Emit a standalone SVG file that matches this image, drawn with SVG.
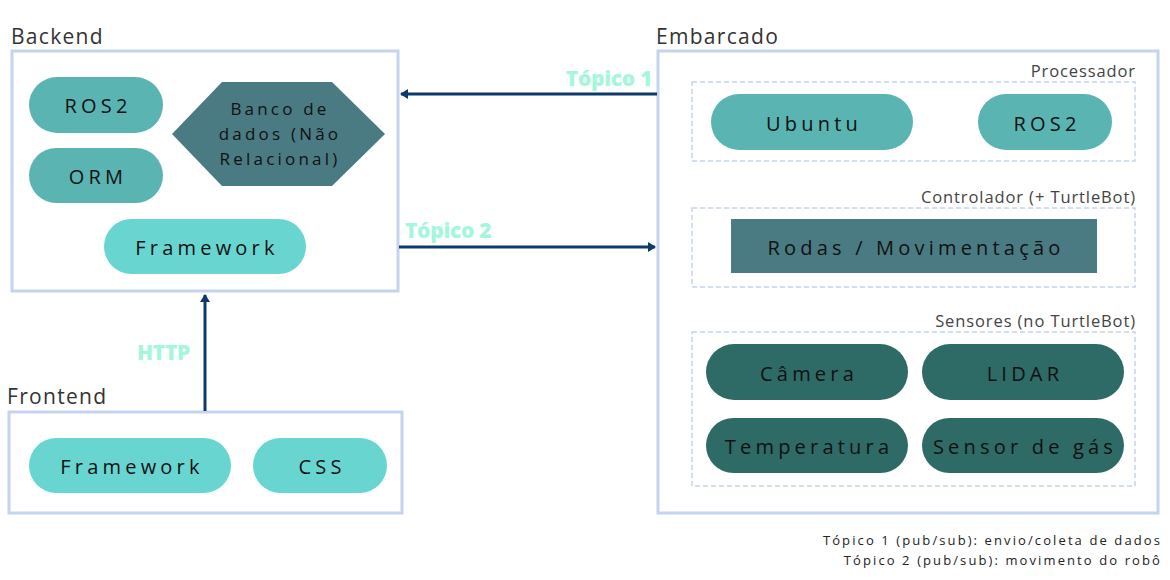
<svg xmlns="http://www.w3.org/2000/svg" width="1170" height="580" viewBox="0 0 1170 580">
<defs>
<marker id="ah" markerWidth="10" markerHeight="10" refX="7" refY="5" orient="auto" markerUnits="userSpaceOnUse">
<path d="M0,0 L8,5 L0,10 Z" fill="#0d3a6b"/>
</marker>
<style>
.frame{fill:#fff;stroke:#c5d4ee;stroke-width:3}
.dash{fill:none;stroke:#c5d4ee;stroke-width:1.5;stroke-dasharray:5 3}
.title{font-family:"Open Sans","Noto Sans",sans-serif;font-size:21px;fill:#333;letter-spacing:1.3px}
.sub{font-family:"Open Sans","Noto Sans",sans-serif;font-size:16.5px;fill:#444;letter-spacing:0.9px}
.nt{font-family:"Open Sans","Noto Sans",sans-serif;font-size:20px;fill:#111;letter-spacing:4.2px;text-anchor:middle;dominant-baseline:central}
.hx{font-size:17px;letter-spacing:3.2px}
.lbl{font-family:"Open Sans","Liberation Sans",sans-serif;font-weight:800;font-size:21px;fill:#a6f6dc;letter-spacing:-0.3px}
.c1{fill:#5ab4b1}.c2{fill:#68d5d1}.c3{fill:#4a7b83}.c4{fill:#2e6a66}
.conn{stroke:#0d3a6b;stroke-width:3;fill:none}
.foot{font-family:"Open Sans","Noto Sans",sans-serif;font-size:13px;fill:#222;letter-spacing:2.1px;text-anchor:end}
</style>
</defs>

<g id="backend">
<text class="title" x="11" y="44">Backend</text>
<rect class="frame" x="12" y="51" width="386" height="240"/>
<g id="be-ros2"><rect class="c1" x="29" y="77" width="134" height="56" rx="28"/><text class="nt" x="98" y="105">ROS2</text></g>
<g id="be-orm"><rect class="c1" x="29" y="148" width="134" height="55" rx="27.5"/><text class="nt" x="98" y="176">ORM</text></g>
<g id="be-db"><polygon class="c3" points="172,134 222,82 332,82 385,134 332,186 222,186"/>
<text class="nt hx" x="280" y="108">Banco de</text>
<text class="nt hx" x="280" y="133">dados (Não</text>
<text class="nt hx" x="280" y="158">Relacional)</text></g>
<g id="be-fw"><rect class="c2" x="104" y="219" width="202" height="55" rx="27.5"/><text class="nt" x="207" y="247">Framework</text></g>
</g>

<g id="frontend">
<text class="title" x="7" y="404">Frontend</text>
<rect class="frame" x="9" y="412" width="393" height="101"/>
<g id="fe-fw"><rect class="c2" x="29" y="438" width="202" height="55" rx="27.5"/><text class="nt" x="132" y="466">Framework</text></g>
<g id="fe-css"><rect class="c2" x="253" y="438" width="134" height="55" rx="27.5"/><text class="nt" x="322" y="466">CSS</text></g>
</g>

<g id="embarcado">
<text class="title" x="656" y="44">Embarcado</text>
<rect class="frame" x="658" y="51" width="500" height="462"/>
<g id="processador">
<text class="sub" x="1136" y="77" text-anchor="end">Processador</text>
<rect class="dash" x="692" y="82" width="443" height="79"/>
<g id="emb-ubuntu"><rect class="c1" x="711" y="94" width="202" height="56" rx="28"/><text class="nt" x="814" y="123">Ubuntu</text></g>
<g id="emb-ros2"><rect class="c1" x="978" y="94" width="134" height="56" rx="28"/><text class="nt" x="1047" y="123">ROS2</text></g>
</g>
<g id="controlador">
<text class="sub" x="1136" y="203" text-anchor="end">Controlador (+ TurtleBot)</text>
<rect class="dash" x="692" y="208" width="443" height="79"/>
<g id="emb-rodas"><rect class="c3" x="731" y="219" width="366" height="54"/><text class="nt" x="916" y="247">Rodas / Movimentação</text></g>
</g>
<g id="sensores">
<text class="sub" x="1136" y="327" text-anchor="end">Sensores (no TurtleBot)</text>
<rect class="dash" x="692" y="332" width="443" height="154"/>
<g id="s-cam"><rect class="c4" x="706" y="344" width="202" height="56" rx="28"/><text class="nt" x="809" y="373">Câmera</text></g>
<g id="s-lidar"><rect class="c4" x="922" y="344" width="202" height="56" rx="28"/><text class="nt" x="1025" y="373">LIDAR</text></g>
<g id="s-temp"><rect class="c4" x="706" y="418" width="202" height="55" rx="27.5"/><text class="nt" x="809" y="446">Temperatura</text></g>
<g id="s-gas"><rect class="c4" x="922" y="418" width="202" height="55" rx="27.5"/><text class="nt" x="1025" y="446">Sensor de gás</text></g>
</g>
</g>

<g id="connectors">
<line class="conn" x1="657" y1="94" x2="401" y2="94" marker-end="url(#ah)"/>
<text class="lbl" x="652" y="86" text-anchor="end">Tópico 1</text>
<line class="conn" x1="399" y1="247" x2="655" y2="247" marker-end="url(#ah)"/>
<text class="lbl" x="405" y="238">Tópico 2</text>
<line class="conn" x1="205" y1="411" x2="205" y2="295" marker-end="url(#ah)"/>
<text class="lbl" x="137" y="360">HTTP</text>
</g>

<g id="legend">
<text class="foot" x="1162" y="545">Tópico 1 (pub/sub): envio/coleta de dados</text>
<text class="foot" x="1162" y="565">Tópico 2 (pub/sub): movimento do robô</text>
</g>
</svg>
